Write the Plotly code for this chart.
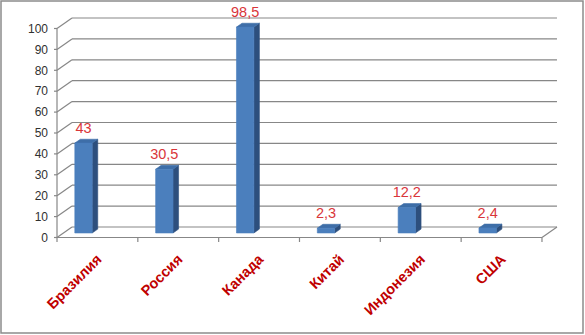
import plotly.graph_objects as go

# ---- data ----
categories = ["Бразилия", "Россия", "Канада", "Китай", "Индонезия", "США"]
values = [43, 30.5, 98.5, 2.3, 12.2, 2.4]
ytick_vals = [0, 10, 20, 30, 40, 50, 60, 70, 80, 90, 100]
ytick_text = [str(v) for v in ytick_vals]
value_labels = [f"{v:g}".replace(".", ",") for v in values]

# ---- geometry / style constants (pixels) ----
W, H = 585, 335
PL, PR, PT, PB = 49, 572, 5, 247          # plot area edges in px
FRONT_X0_PX = 57.0                          # px of left edge of front floor
KX = 80.83                                  # px per category
FRONT_Y0_PX = 237.5                         # px of value 0 on front plane
KY = 2.09                                   # px per value unit
DEPTH_DX_PX, DEPTH_DY_PX = 15.0, 10.5       # full depth offset (right, up)
D_FRONT, D_BACK = 0.43, 0.80                # bar depth span (fraction of full depth)
BAR_W = 0.215                               # bar width in category units
BAR_SHIFT = -0.252                          # bar offset within category slot
LABEL_GAP_PX = 2.5

GRID = "#878787"
FRONT_C, SIDE_C, TOP_C = "#4B7FBD", "#2D4F7D", "#3E6EA8"

def px_to_x(px):
    return (px - FRONT_X0_PX) / KX - 0.5

def py_to_y(py):
    return (FRONT_Y0_PX - py) / KY

DX = DEPTH_DX_PX / KX
DY = DEPTH_DY_PX / KY
xr = [px_to_x(PL), px_to_x(PR)]
yr = [py_to_y(PB), py_to_y(PT)]

n = len(categories)
x_left, x_right = -0.5, n - 0.5

def proj(x, v, d):
    return x + d * DX, v + d * DY

fig = go.Figure()

# ---- walls, floor, ticks (one polyline trace) ----
lx, ly = [], []
def seg(p, q):
    lx.extend([p[0], q[0], None]); ly.extend([p[1], q[1], None])

for v in ytick_vals:
    seg(proj(x_left, v, 1), proj(x_right, v, 1))         # back wall gridline
    seg(proj(x_left, v, 0), proj(x_left, v, 1))          # side wall diagonal
    seg((x_left - 3 / KX, v), (x_left, v))               # y tick
seg(proj(x_left, 0, 0), proj(x_left, 100, 0))            # front vertical axis
seg(proj(x_left, 0, 0), proj(x_right, 0, 0))             # front floor edge
seg(proj(x_right, 0, 0), proj(x_right, 0, 1))            # right floor edge
for b in range(n + 1):
    seg((b - 0.5, 0), (b - 0.5, -4.5 / KY))              # x ticks
fig.add_trace(go.Scatter(x=lx, y=ly, mode="lines", line=dict(color=GRID, width=1.2),
                         hoverinfo="skip", showlegend=False))

def face(pts, color):
    fig.add_trace(go.Scatter(x=[q[0] for q in pts] + [pts[0][0]],
                             y=[q[1] for q in pts] + [pts[0][1]],
                             fill="toself", fillcolor=color, mode="lines",
                             line=dict(color=color, width=0.6),
                             hoverinfo="skip", showlegend=False))

# ---- 3D bars ----
lab_x, lab_y = [], []
for i, v in enumerate(values):
    cx = i + BAR_SHIFT
    x0, x1 = cx - BAR_W / 2, cx + BAR_W / 2
    face([proj(x1, 0, D_FRONT), proj(x1, 0, D_BACK), proj(x1, v, D_BACK), proj(x1, v, D_FRONT)], SIDE_C)
    face([proj(x0, v, D_FRONT), proj(x1, v, D_FRONT), proj(x1, v, D_BACK), proj(x0, v, D_BACK)], TOP_C)
    face([proj(x0, 0, D_FRONT), proj(x1, 0, D_FRONT), proj(x1, v, D_FRONT), proj(x0, v, D_FRONT)], FRONT_C)
    lab_x.append(proj(cx, v, D_FRONT)[0])
    lab_y.append(proj(cx, v, D_BACK)[1] + LABEL_GAP_PX / KY)

# ---- value labels ----
fig.add_trace(go.Scatter(x=lab_x, y=lab_y, mode="text", text=value_labels,
                         textposition="top center", cliponaxis=False,
                         textfont=dict(family="Liberation Sans, Arial", size=14.5, color="#D9363A"),
                         hoverinfo="skip", showlegend=False))

fig.update_layout(
    width=W, height=H,
    margin=dict(l=PL, r=W - PR, t=PT, b=H - PB, pad=0),
    paper_bgcolor="white", plot_bgcolor="white",
    hovermode=False,
    xaxis=dict(range=xr, tickvals=list(range(n)), ticktext=categories, tickangle=-45,
               showgrid=False, zeroline=False, showline=False, ticks="",
               tickfont=dict(family="Liberation Sans, Arial", size=14.5, color="#C00000",
                             weight="bold")),
    yaxis=dict(range=yr, tickvals=ytick_vals, ticktext=ytick_text,
               showgrid=False, zeroline=False, showline=False, ticks="",
               tickfont=dict(family="Liberation Sans, Arial", size=12, color="#303030")),
    shapes=[dict(type="rect", xref="paper", yref="paper",
                 x0=(1 - PL) / (PR - PL), x1=(W - 2 - PL) / (PR - PL),
                 y0=(PB - (H - 2)) / (PB - PT), y1=(PB - 1) / (PB - PT),
                 line=dict(color="#8C8C8C", width=1.5))],
)

fig.write_html("out.html")
